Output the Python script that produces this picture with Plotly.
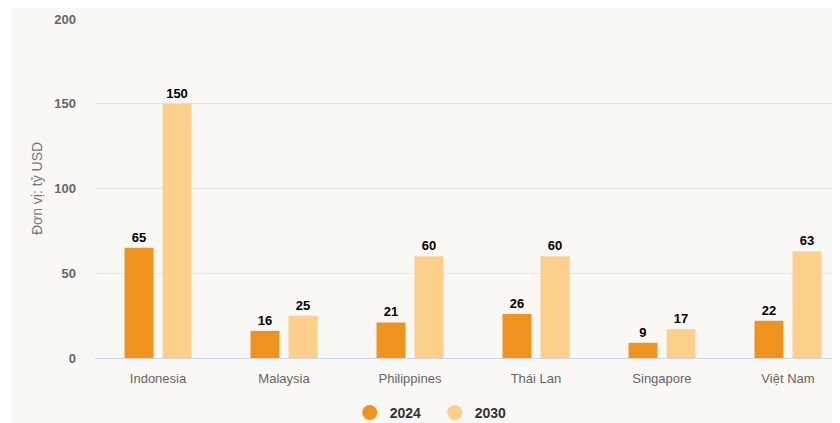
import plotly.graph_objects as go

countries = ["Indonesia", "Malaysia", "Philippines", "Thái Lan", "Singapore", "Việt Nam"]
values_2024 = [65, 16, 21, 26, 9, 22]
values_2030 = [150, 25, 60, 60, 17, 63]
series_names = ["2024", "2030"]
y_ticks = [0, 50, 100, 150, 200]

c2024 = "#EF931E"
c2030 = "#FCD08A"
cream = "#FAF8F5"
font_family = "Liberation Sans, Arial, sans-serif"

fig = go.Figure()
for name, vals, col in [(series_names[0], values_2024, c2024), (series_names[1], values_2030, c2030)]:
    fig.add_trace(go.Bar(
        x=countries, y=vals, name=name, marker=dict(color=col, line=dict(width=0)),
        text=[str(v) for v in vals], textposition="outside",
        textfont=dict(family=font_family, size=13, color="#000000", weight="bold"),
        cliponaxis=False, showlegend=False, hoverinfo="x+y",
    ))
    fig.add_trace(go.Scatter(
        x=[None], y=[None], mode="markers", name=name,
        marker=dict(symbol="circle", size=15, color=col), showlegend=True,
    ))

fig.add_shape(type="rect", xref="paper", yref="paper",
              x0=-0.1128, x1=1.0, y0=-0.3, y1=1.1,
              fillcolor=cream, line=dict(width=0), layer="below")

fig.update_layout(
    width=832, height=415,
    paper_bgcolor="#FFFFFF", plot_bgcolor="rgba(0,0,0,0)",
    margin=dict(l=87, r=0, t=11, b=65, autoexpand=False),
    barmode="group", bargap=0.397, bargroupgap=0.237,
    font=dict(family=font_family, size=13, color="#666666"),
    legend=dict(orientation="h", x=0.456, xanchor="center", y=-0.162, yanchor="middle",
                font=dict(size=14, color="#333333", weight="bold"),
                bgcolor="rgba(0,0,0,0)", itemwidth=30, tracegroupgap=0, entrywidth=40),
    xaxis=dict(range=[-0.5, 5.413], showgrid=False, showline=False, zeroline=False,
               ticks="outside", ticklen=8, tickcolor="rgba(0,0,0,0)",
               tickfont=dict(size=13, color="#666666")),
    yaxis=dict(range=[0, 200], tickvals=y_ticks, showgrid=True, gridcolor="#E6E6E6", gridwidth=1,
               zeroline=True, zerolinecolor="#CCD6EB", zerolinewidth=1,
               ticklabelstandoff=18, tickfont=dict(size=13, color="#666666", weight="bold"),
               title=dict(text="Đơn vị: tỷ USD", font=dict(size=14, color="#777777"), standoff=8)),
)

fig.write_html("out.html")
